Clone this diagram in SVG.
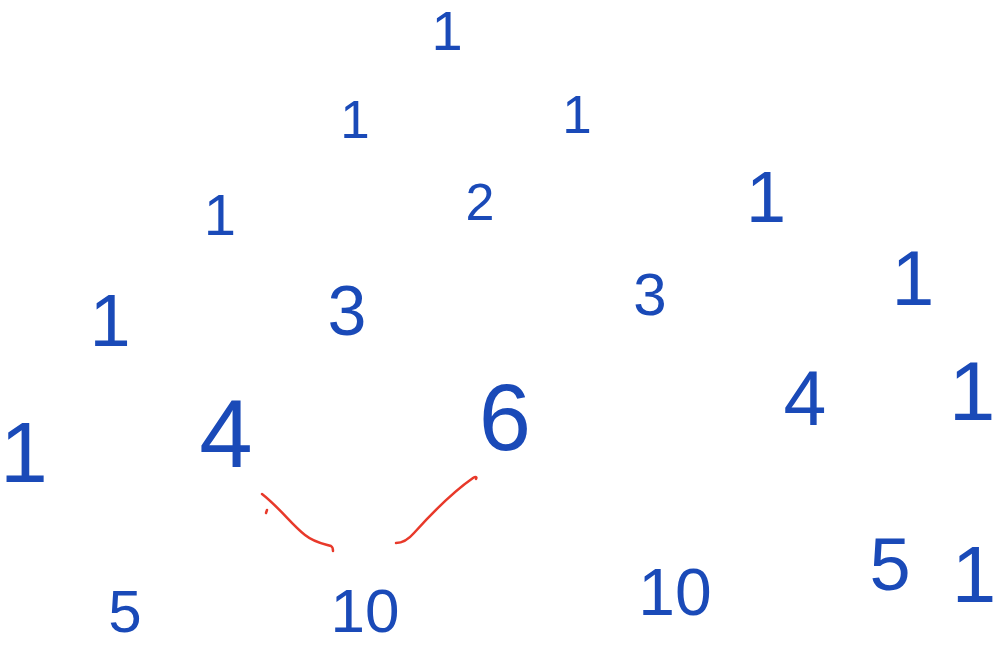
<svg xmlns="http://www.w3.org/2000/svg" width="998" height="646" viewBox="0 0 998 646">
<style>
.n{font-family:"Liberation Sans",Arial,sans-serif;fill:#1a4ab8;text-anchor:middle}
.c{fill:none;stroke:#e8392a;stroke-width:2.5;stroke-linecap:round;stroke-linejoin:round}
</style>
<rect width="998" height="646" fill="#ffffff"/>
<g id="connectors">
<path class="c" d="M262,494 C280,508 292,525 305,535 C315,543 325,544 331,546 C333,547 333,549 333,551"/>
<path class="c" d="M267,510 L266,513"/>
<path class="c" d="M396,543 C402,543 408,540 414,533 C432,513 450,494 473,478 C476,476 477,477 476,479"/>
</g>
<g id="r0c0"><text class="n" x="447" y="50" font-size="56">1</text></g>
<g id="r1c0"><text class="n" x="355" y="138" font-size="53">1</text></g>
<g id="r1c1"><text class="n" x="577" y="133" font-size="53">1</text></g>
<g id="r2c0"><text class="n" x="220" y="235" font-size="58">1</text></g>
<g id="r2c1"><text class="n" x="480" y="220" font-size="52">2</text></g>
<g id="r2c2"><text class="n" x="766" y="222" font-size="72">1</text></g>
<g id="r3c0"><text class="n" x="110" y="346" font-size="74">1</text></g>
<g id="r3c1"><text class="n" x="347" y="335" font-size="70">3</text></g>
<g id="r3c2"><text class="n" x="650" y="315" font-size="60">3</text></g>
<g id="r3c3"><text class="n" x="913" y="305" font-size="77">1</text></g>
<g id="r4c0"><text class="n" x="24" y="482" font-size="86">1</text></g>
<g id="r4c1"><text class="n" x="226" y="467" font-size="96">4</text></g>
<g id="r4c2"><text class="n" x="505" y="450" font-size="94">6</text></g>
<g id="r4c3"><text class="n" x="805" y="425" font-size="77">4</text></g>
<g id="r4c4"><text class="n" x="972" y="420" font-size="84">1</text></g>
<g id="r5c0"><text class="n" x="125" y="632" font-size="60">5</text></g>
<g id="r5c1"><text class="n" x="365" y="632" font-size="62">10</text></g>
<g id="r5c2"><text class="n" x="675" y="615" font-size="66">10</text></g>
<g id="r5c3"><text class="n" x="890" y="590" font-size="74">5</text></g>
<g id="r5c4"><text class="n" x="974" y="602" font-size="80">1</text></g>
</svg>
